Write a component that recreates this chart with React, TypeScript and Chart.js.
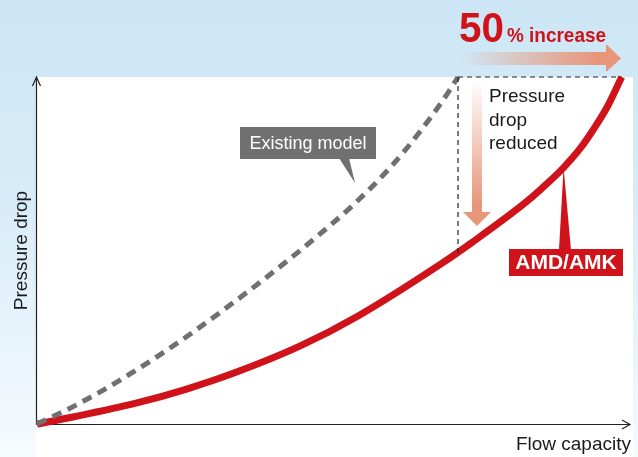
import { useEffect, useRef } from "react";
import { Chart, registerables } from "chart.js";

Chart.register(...registerables);

// Flow capacity (% of axis) and pressure drop (% of axis)
const existingFlow = [0, 5.4, 11.1, 15.5, 20.6, 25.5, 32.5, 39.3, 46.0, 53.3, 59.5, 64.6, 69.1, 71.0];
const existingDrop = [0, 4.4, 9.7, 14.2, 19.8, 25.5, 34.2, 43.1, 52.3, 63.1, 73.8, 84.3, 94.9, 100];
const amdFlow = [0, 5.4, 16.7, 25.1, 33.1, 44.4, 54.0, 68.0, 73.5, 82.0, 85.0, 88.8, 91.6, 93.8, 96.1, 98.6];
const amdDrop = [0, 1.8, 6.0, 10.0, 14.6, 22.5, 31.0, 46.0, 52.5, 63.3, 67.7, 73.9, 79.4, 84.8, 91.2, 100];
const amdPointerIndex = 11;

// Reference box: existing model's max flow, reduced pressure drop, new max flow
const boxFlow = [71.0, 98.6];
const boxDrop = [100, 49.3];

const xAxisTitle = "Flow capacity";
const yAxisTitle = "Pressure drop";
const existingLabel = "Existing model";
const amdLabel = "AMD/AMK";
const reducedLabel = ["Pressure", "drop", "reduced"];
const increaseBig = "50";
const increaseSmall = "% increase";

const FONT = "'Liberation Sans', Arial, Helvetica, sans-serif";
const RED = "#d0121b";
const GRAY = "#707070";
const SALMON = "#e8967a";

const toPts = (xs: number[], ys: number[]) => xs.map((x, i) => ({ x, y: ys[i] }));

export default function App() {
  const ref = useRef<HTMLCanvasElement>(null);

  useEffect(() => {
    document.body.style.margin = "0";
    const canvas = ref.current!;

    const bgPlugin = {
      id: "bgPlugin",
      beforeDraw(chart: any) {
        const { ctx, width, height, chartArea } = chart;
        ctx.save();
        const g = ctx.createLinearGradient(0, 0, 0, height);
        g.addColorStop(0, "#cce6f5");
        g.addColorStop(0.45, "#d8ecf8");
        g.addColorStop(1, "#f6fbfe");
        ctx.fillStyle = g;
        ctx.fillRect(0, 0, width, height);
        ctx.fillStyle = "#ffffff";
        ctx.fillRect(chartArea.left - 1, chartArea.top, chartArea.right - chartArea.left + 4, height - chartArea.top);

        // axes with open arrow heads
        ctx.strokeStyle = "#222";
        ctx.lineWidth = 1.2;
        const ax = chartArea.left - 0.5;
        const ay = chartArea.bottom + 0.5;
        ctx.beginPath();
        ctx.moveTo(ax, ay);
        ctx.lineTo(ax, chartArea.top);
        ctx.moveTo(ax - 4, chartArea.top + 9);
        ctx.lineTo(ax, chartArea.top);
        ctx.lineTo(ax + 4, chartArea.top + 9);
        ctx.moveTo(ax, ay);
        ctx.lineTo(chartArea.right, ay);
        ctx.moveTo(chartArea.right - 8, ay - 4.5);
        ctx.lineTo(chartArea.right, ay);
        ctx.lineTo(chartArea.right - 8, ay + 4.5);
        ctx.stroke();

        // axis titles
        ctx.fillStyle = "#1a1a1a";
        ctx.font = `19px ${FONT}`;
        ctx.textAlign = "right";
        ctx.textBaseline = "alphabetic";
        ctx.fillText(xAxisTitle, chartArea.right + 1, chartArea.bottom + 26);
        ctx.save();
        ctx.translate(26.5, (chartArea.top + chartArea.bottom) / 2);
        ctx.rotate(-Math.PI / 2);
        ctx.textAlign = "center";
        ctx.fillText(yAxisTitle, 0, 0);
        ctx.restore();
        ctx.restore();
      },
    };

    const annPlugin = {
      id: "annPlugin",
      afterDatasetsDraw(chart: any) {
        const { ctx } = chart;
        const xs = chart.scales.x;
        const ys = chart.scales.y;
        ctx.save();

        // Existing model callout
        ctx.fillStyle = GRAY;
        ctx.fillRect(240, 127, 136, 32);
        ctx.beginPath();
        ctx.moveTo(339, 158);
        ctx.lineTo(349, 158);
        ctx.lineTo(355, 183);
        ctx.closePath();
        ctx.fill();
        ctx.fillStyle = "#ffffff";
        ctx.font = `18px ${FONT}`;
        ctx.textAlign = "center";
        ctx.textBaseline = "middle";
        ctx.fillText(existingLabel, 308, 144);

        // AMD/AMK callout, pointer tip on the red curve
        const tipX = xs.getPixelForValue(amdFlow[amdPointerIndex]);
        const tipY = ys.getPixelForValue(amdDrop[amdPointerIndex]);
        ctx.fillStyle = RED;
        ctx.beginPath();
        ctx.moveTo(559, 250);
        ctx.lineTo(571, 250);
        ctx.lineTo(tipX, tipY);
        ctx.closePath();
        ctx.fill();
        ctx.fillRect(509, 249, 114, 27);
        ctx.fillStyle = "#ffffff";
        ctx.font = `bold 21px ${FONT}`;
        ctx.fillText(amdLabel, 566, 263.5);

        // Down arrow (pressure drop reduced)
        const dg = ctx.createLinearGradient(0, 83, 0, 226);
        dg.addColorStop(0, "rgba(232,150,122,0.02)");
        dg.addColorStop(0.85, SALMON);
        dg.addColorStop(1, SALMON);
        ctx.fillStyle = dg;
        ctx.fillRect(472, 83, 10, 130);
        ctx.beginPath();
        ctx.moveTo(463, 212);
        ctx.lineTo(491, 212);
        ctx.lineTo(477, 226);
        ctx.closePath();
        ctx.fill();

        ctx.fillStyle = "#1a1a1a";
        ctx.font = `19px ${FONT}`;
        ctx.textAlign = "left";
        ctx.textBaseline = "alphabetic";
        reducedLabel.forEach((t, i) => ctx.fillText(t, 489, 102 + i * 23.5));

        // Right arrow (50% increase)
        const rg = ctx.createLinearGradient(460, 0, 621, 0);
        rg.addColorStop(0, "rgba(232,150,122,0)");
        rg.addColorStop(0.85, SALMON);
        rg.addColorStop(1, SALMON);
        ctx.fillStyle = rg;
        ctx.fillRect(460, 52, 147, 13);
        ctx.beginPath();
        ctx.moveTo(606, 44);
        ctx.lineTo(621, 58.5);
        ctx.lineTo(606, 72);
        ctx.closePath();
        ctx.fill();

        ctx.fillStyle = RED;
        ctx.font = `bold 42px ${FONT}`;
        ctx.fillText(increaseBig, 459, 42, 45);
        ctx.font = `bold 21px ${FONT}`;
        ctx.fillText(increaseSmall, 507, 42, 99);

        ctx.restore();
      },
    };

    const chart = new Chart(canvas, {
      type: "line",
      data: {
        datasets: [
          {
            label: "box-v",
            data: toPts([boxFlow[0], boxFlow[0]], [boxDrop[0], boxDrop[1]]),
            borderColor: "#222",
            borderWidth: 1.2,
            borderDash: [5, 4],
            pointRadius: 0,
            fill: false,
          },
          {
            label: "box-h",
            data: toPts([boxFlow[0], boxFlow[1]], [boxDrop[0], boxDrop[0]]),
            borderColor: "#222",
            borderWidth: 1.2,
            borderDash: [5, 4],
            pointRadius: 0,
            fill: false,
          },
          {
            label: existingLabel,
            data: toPts(existingFlow, existingDrop),
            borderColor: GRAY,
            borderWidth: 5,
            borderDash: [10, 7],
            borderCapStyle: "butt",
            pointRadius: 0,
            cubicInterpolationMode: "monotone",
            fill: false,
          },
          {
            label: amdLabel,
            data: toPts(amdFlow, amdDrop),
            borderColor: RED,
            borderWidth: 7,
            pointRadius: 0,
            cubicInterpolationMode: "monotone",
            fill: false,
          },
        ],
      },
      options: {
        animation: false,
        responsive: false,
        devicePixelRatio: 1,
        layout: { padding: { left: 37, right: 8, top: 77, bottom: 33 } },
        scales: {
          x: { type: "linear", min: 0, max: 100, display: false },
          y: { type: "linear", min: 0, max: 100, display: false },
        },
        plugins: { legend: { display: false }, tooltip: { enabled: false } },
        datasets: { line: { clip: false } as any },
        events: [],
      } as any,
      plugins: [bgPlugin, annPlugin],
    });

    return () => chart.destroy();
  }, []);

  return (
    <div style={{ width: 638, height: 457 }}>
      <canvas ref={ref} width={638} height={457} style={{ display: "block", width: 638, height: 457 }} />
    </div>
  );
}
